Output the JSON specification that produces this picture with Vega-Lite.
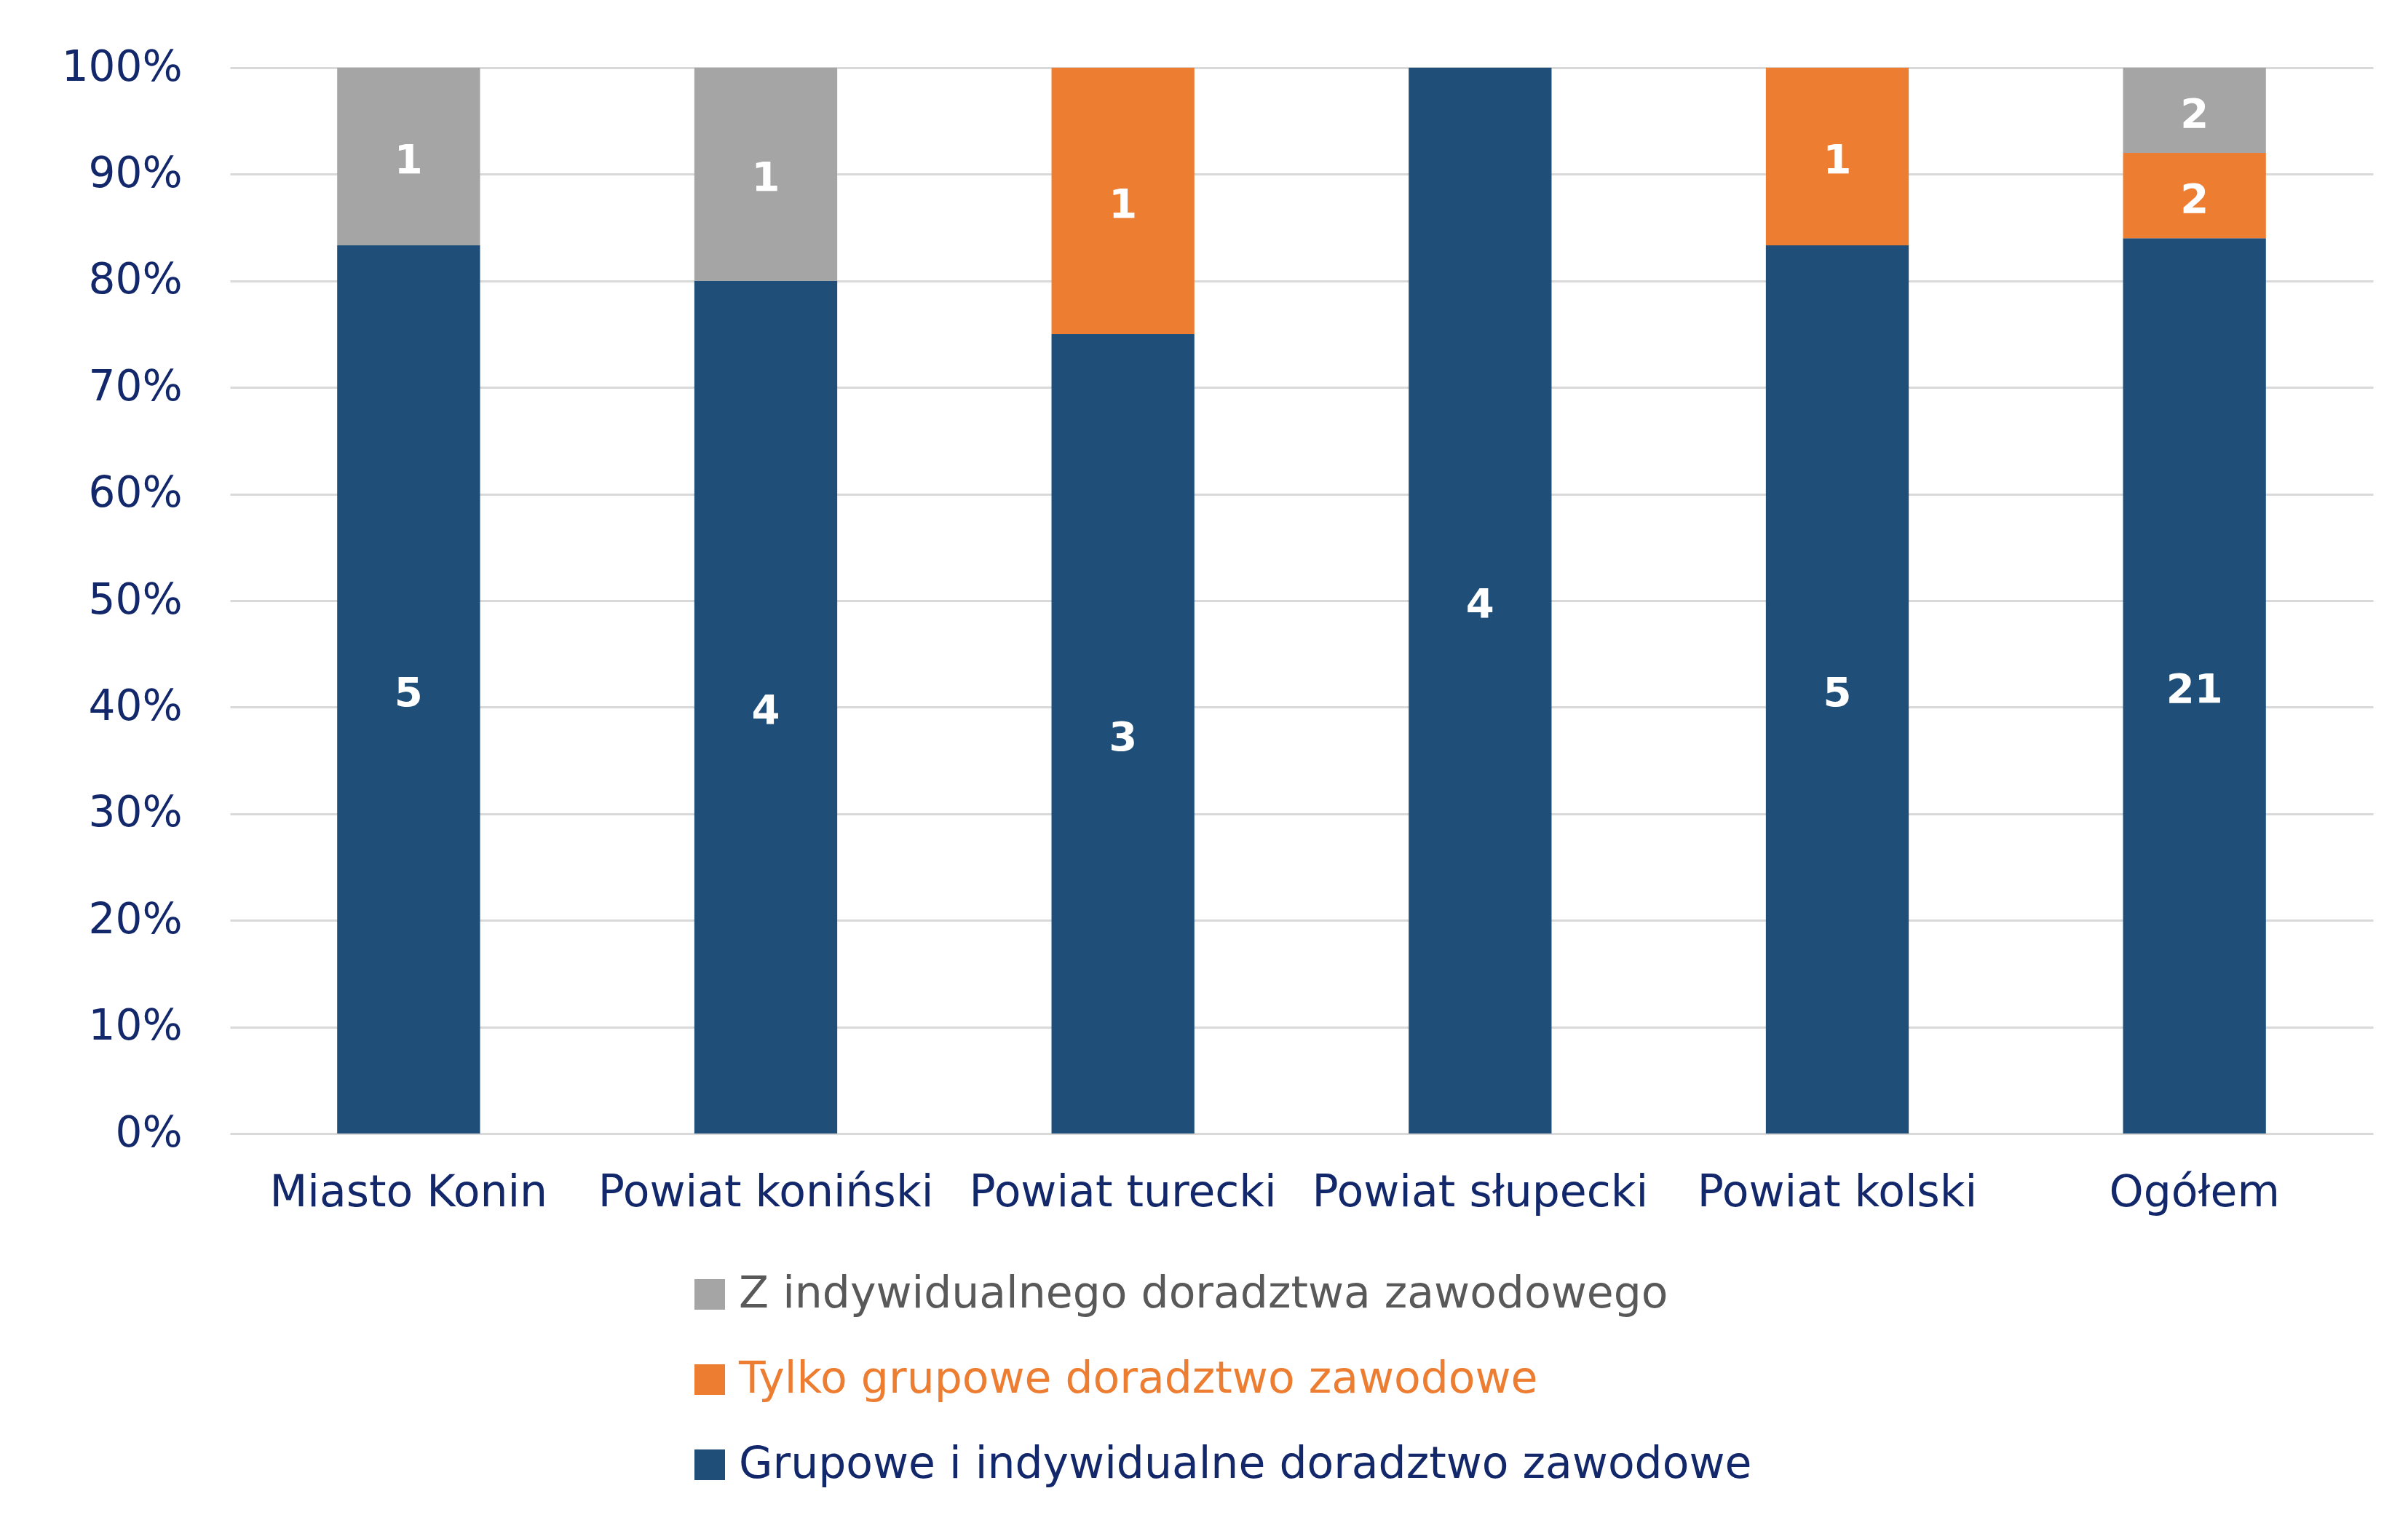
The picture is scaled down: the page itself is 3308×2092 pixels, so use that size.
{
  "$schema": "https://vega.github.io/schema/vega-lite/v6.json",
  "width": 2944,
  "height": 1464,
  "autosize": "none",
  "padding": {"left": 316, "top": 93, "right": 48, "bottom": 535},
  "background": "white",
  "config": {
    "view": {"stroke": null},
    "font": "DejaVu Sans"
  },
  "data": {
    "values": [
      {"obszar": "Miasto Konin", "kat": "Grupowe i indywidualne doradztwo zawodowe", "n": 5},
      {"obszar": "Miasto Konin", "kat": "Z indywidualnego doradztwa zawodowego", "n": 1},
      {"obszar": "Powiat koniński", "kat": "Grupowe i indywidualne doradztwo zawodowe", "n": 4},
      {"obszar": "Powiat koniński", "kat": "Z indywidualnego doradztwa zawodowego", "n": 1},
      {"obszar": "Powiat turecki", "kat": "Grupowe i indywidualne doradztwo zawodowe", "n": 3},
      {"obszar": "Powiat turecki", "kat": "Tylko grupowe doradztwo zawodowe", "n": 1},
      {"obszar": "Powiat słupecki", "kat": "Grupowe i indywidualne doradztwo zawodowe", "n": 4},
      {"obszar": "Powiat kolski", "kat": "Grupowe i indywidualne doradztwo zawodowe", "n": 5},
      {"obszar": "Powiat kolski", "kat": "Tylko grupowe doradztwo zawodowe", "n": 1},
      {"obszar": "Ogółem", "kat": "Grupowe i indywidualne doradztwo zawodowe", "n": 21},
      {"obszar": "Ogółem", "kat": "Tylko grupowe doradztwo zawodowe", "n": 2},
      {"obszar": "Ogółem", "kat": "Z indywidualnego doradztwa zawodowego", "n": 2}
    ]
  },
  "encoding": {
    "x": {
      "field": "obszar",
      "type": "nominal",
      "sort": ["Miasto Konin", "Powiat koniński", "Powiat turecki", "Powiat słupecki", "Powiat kolski", "Ogółem"],
      "scale": {"paddingInner": 0.6, "paddingOuter": 0.3},
      "axis": {
        "title": null,
        "labelAngle": 0,
        "labelFontSize": 60,
        "labelColor": "#12286B",
        "labelPadding": 52,
        "labelLimit": 1000,
        "ticks": false,
        "domain": false
      }
    },
    "y": {
      "field": "n",
      "type": "quantitative",
      "stack": "normalize",
      "scale": {"domain": [0, 1]},
      "axis": {
        "title": null,
        "format": ".0%",
        "values": [0, 0.1, 0.2, 0.3, 0.4, 0.5, 0.6, 0.7, 0.8, 0.9, 1],
        "labelFontSize": 58,
        "labelColor": "#12286B",
        "labelPadding": 66,
        "ticks": false,
        "domain": false,
        "gridColor": "#D9D9D9",
        "gridWidth": 3
      }
    },
    "order": {"field": "kat", "sort": "ascending"}
  },
  "layer": [
    {
      "mark": {"type": "bar"},
      "encoding": {
        "color": {
          "field": "kat",
          "type": "nominal",
          "scale": {
            "domain": ["Z indywidualnego doradztwa zawodowego", "Tylko grupowe doradztwo zawodowe", "Grupowe i indywidualne doradztwo zawodowe"],
            "range": ["#A5A5A5", "#ED7D31", "#1F4E79"]
          },
          "legend": {
            "title": null,
            "orient": "none",
            "direction": "vertical",
            "legendX": 629,
            "legendY": 1655,
            "symbolType": "square",
            "symbolSize": 1764,
            "symbolStrokeWidth": 0,
            "labelFontSize": 60,
            "labelOffset": 10,
            "labelLimit": 2000,
            "rowPadding": 57,
            "encode": {
              "labels": {
                "update": {
                  "fill": {"signal": "datum.value === 'Tylko grupowe doradztwo zawodowe' ? '#ED7D31' : (datum.value === 'Z indywidualnego doradztwa zawodowego' ? '#595959' : '#12286B')"}
                }
              }
            }
          }
        }
      }
    },
    {
      "mark": {"type": "text", "color": "white", "fontWeight": "bold", "fontSize": 56, "baseline": "middle", "dy": 6},
      "encoding": {
        "y": {"field": "n", "type": "quantitative", "stack": "normalize", "bandPosition": 0.5},
        "text": {"field": "n", "type": "quantitative"}
      }
    }
  ]
}
